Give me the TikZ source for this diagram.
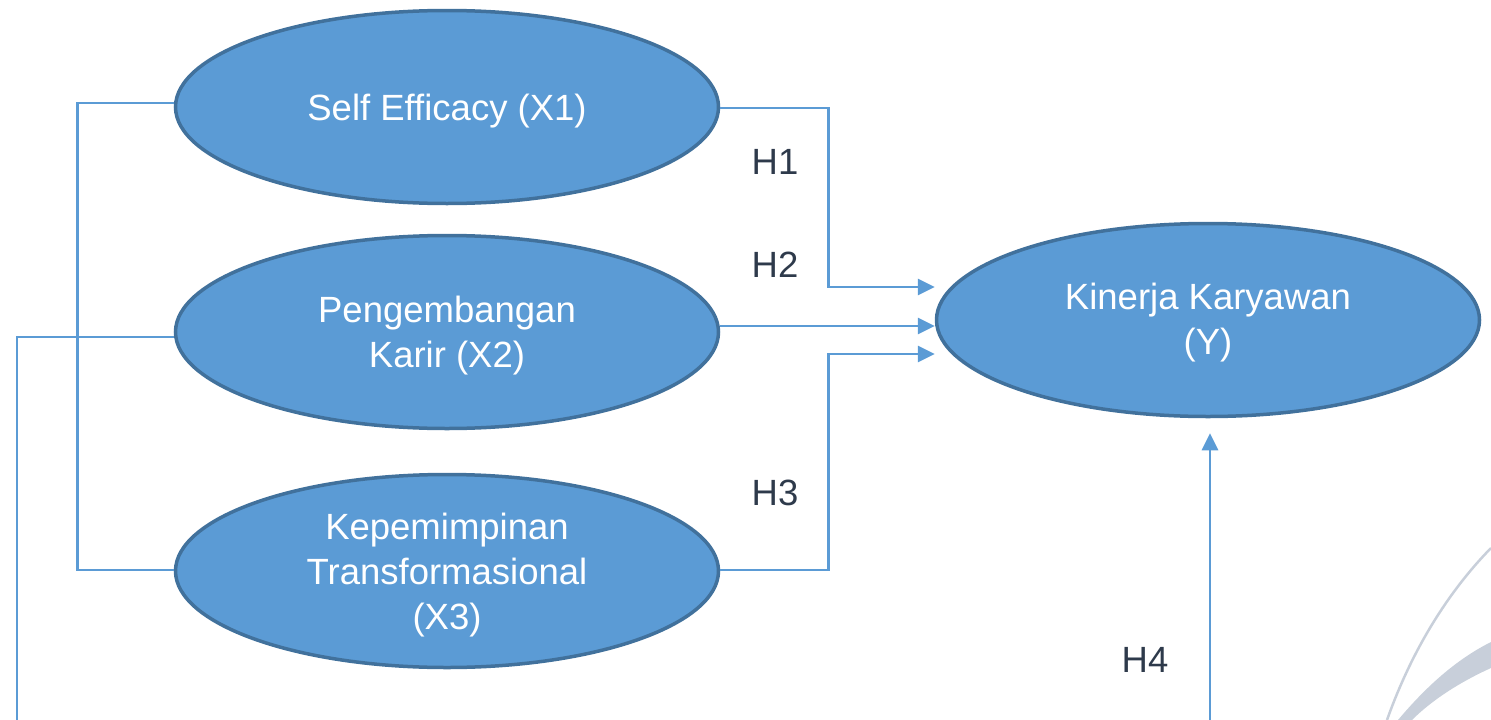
\documentclass[tikz,border=0pt]{standalone}
\usepackage{fontspec}
\setmainfont{Liberation Sans}
\usetikzlibrary{shapes.geometric,arrows.meta,calc}
\definecolor{fillblue}{HTML}{5B9BD5}
\definecolor{edgeblue}{HTML}{41719C}
\definecolor{hcol}{HTML}{2E3A4B}
\definecolor{wm}{HTML}{C8CFDA}
\begin{document}
\begin{tikzpicture}[x=1pt,y=-1pt,
  var/.style={ellipse,draw=edgeblue,line width=3.5pt,fill=fillblue,minimum width=543pt,minimum height=193pt,inner sep=0pt},
  vtext/.style={text=white,align=center,font=\fontsize{36.5}{45}\selectfont},
  conn/.style={draw=fillblue,line width=2.8pt},
  arr/.style={conn,-{Triangle[length=17pt,width=16pt]}},
  hlab/.style={text=hcol,font=\fontsize{36.5}{45}\selectfont}]
\useasboundingbox (0,0) rectangle (1491,720);
% watermark
\draw[wm,line width=2.5pt] (1387,720) .. controls (1410,655) and (1445,595) .. (1491,548);
\fill[wm] (1398,720) .. controls (1425,688) and (1455,660) .. (1491,642) -- (1491,668) .. controls (1460,682) and (1432,700) .. (1412,720) -- cycle;
% nodes
\node[var] (X1) at (447,107) {};
\node[var] (X2) at (447,332) {};
\node[var] (X3) at (447,571) {};
\node[var] (Y) at (1208,320) {};
\node[vtext] (t1) at ([yshift=-4pt]X1.center) {Self Efficacy (X1)};
\node[vtext] (t2) at ([yshift=-4pt]X2.center) {Pengembangan\\Karir (X2)};
\node[vtext] (t3) at ([yshift=-4pt]X3.center) {Kepemimpinan\\Transformasional\\(X3)};
\node[vtext] (t4) at ([yshift=-3pt]Y.center) {Kinerja Karyawan\\(Y)};
\coordinate (b1) at (17,720);
\coordinate (b2) at (1210,720);
% connectors
\draw[arr] ([yshift=-1pt]X1.east) -- ++(108,0) |- ([yshift=33pt]Y.west);
\draw[arr] ([yshift=6pt]X2.east) -- ([yshift=-6pt]Y.west);
\draw[arr] ([yshift=1pt]X3.east) -- ++(108,0) |- ([yshift=-34pt]Y.west);
\draw[conn] ([yshift=4pt]X1.west) -- ++(-96,0) |- ([yshift=1pt]X3.west);
\draw[conn] ([yshift=-5pt]X2.west) -| (b1);
\draw[arr,shorten >=15pt] (b2) -- (b2 |- Y.south);
% labels
\node[hlab] (h1) at (775,162) {H1};
\node[hlab] (h2) at (775,265) {H2};
\node[hlab] (h3) at (775,493) {H3};
\node[hlab] (h4) at (1145,660) {H4};
\end{tikzpicture}
\end{document}
